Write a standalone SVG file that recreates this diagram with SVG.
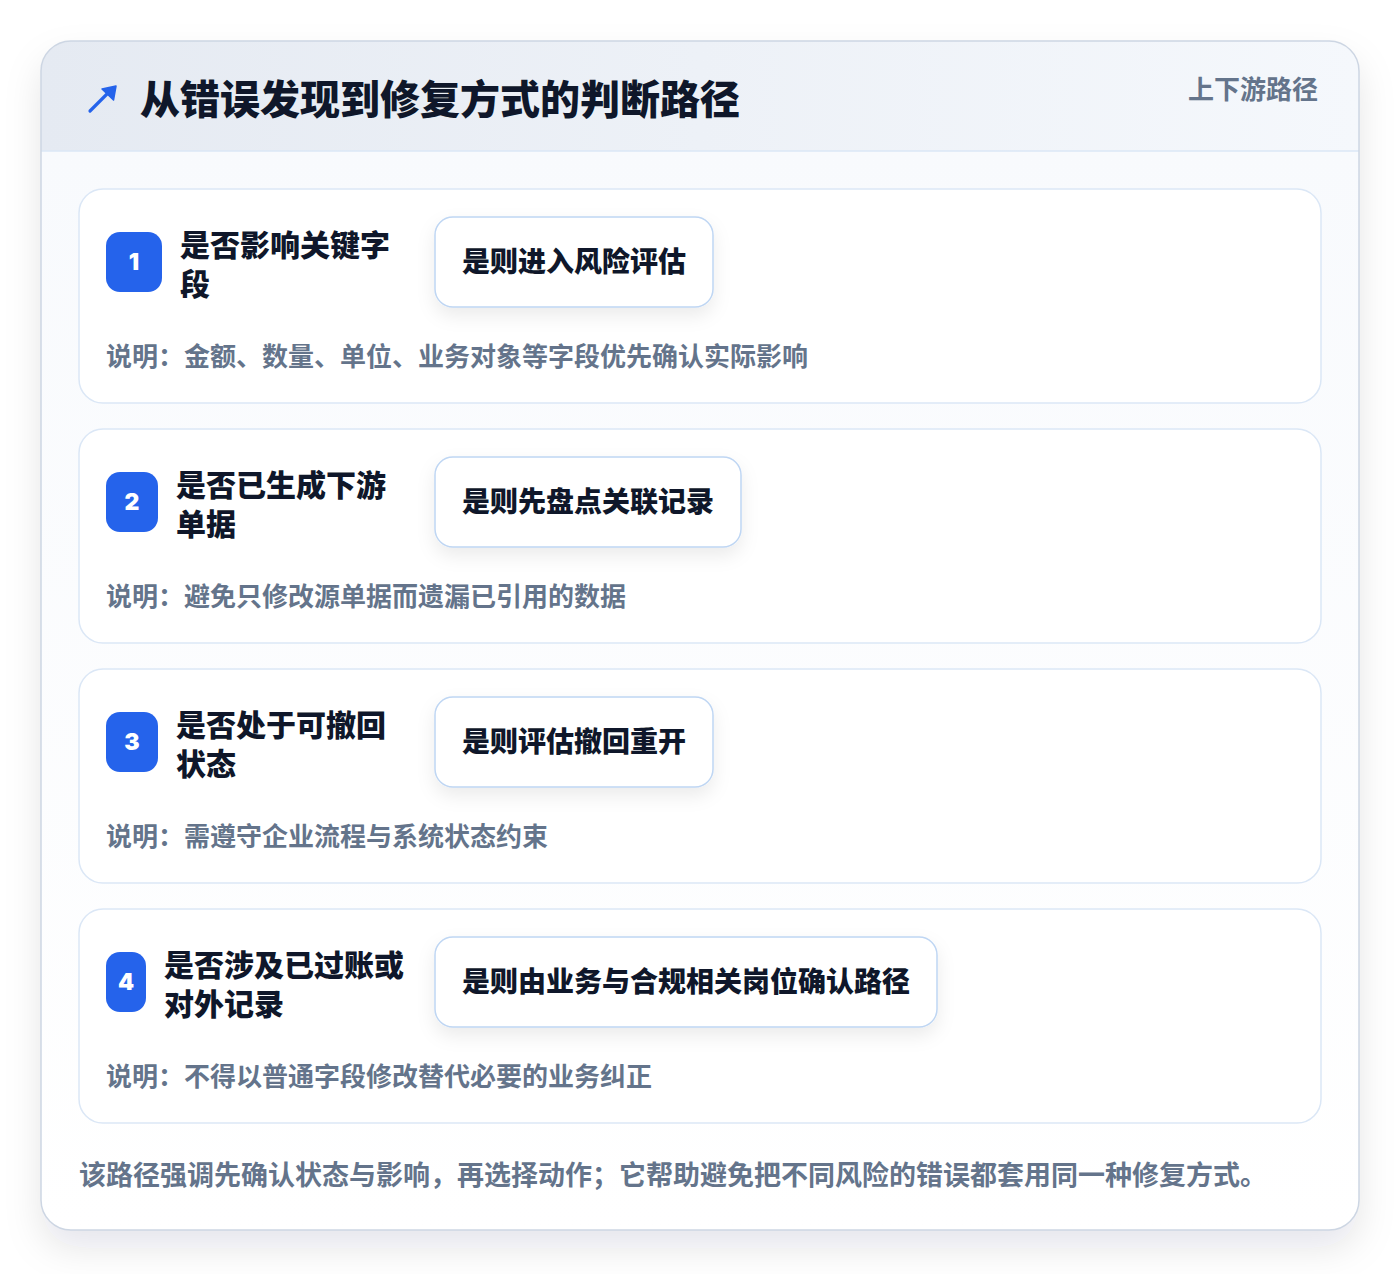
<svg xmlns="http://www.w3.org/2000/svg" width="1400" height="1274" viewBox="0 0 1400 1274">
  <defs>
    <filter id="outerShadow" x="-10%" y="-10%" width="120%" height="125%">
      <feDropShadow dx="0" dy="18" stdDeviation="18" flood-color="#0f172a" flood-opacity="0.10"/>
    </filter>
    <filter id="boxShadow" x="-20%" y="-30%" width="140%" height="180%">
      <feDropShadow dx="0" dy="8" stdDeviation="9" flood-color="#0f172a" flood-opacity="0.08"/>
    </filter>
    <linearGradient id="headerGrad" x1="0" y1="0" x2="1" y2="0">
      <stop offset="0" stop-color="#e5eaf2"/>
      <stop offset="1" stop-color="#f5f8fc"/>
    </linearGradient>
    <linearGradient id="bodyGrad" x1="0" y1="0" x2="0" y2="1">
      <stop offset="0" stop-color="#f8fafd"/>
      <stop offset="1" stop-color="#ffffff"/>
    </linearGradient>
    <clipPath id="outerClip">
      <rect x="41" y="41" width="1318" height="1189" rx="30"/>
    </clipPath>
    <style>
      text { font-family: "Noto Sans CJK SC", "Noto Sans", sans-serif; }
      .title { font-size: 40px; font-weight: 900; fill: #0f172a; }
      .tag { font-size: 26px; font-weight: 700; fill: #64748b; }
      .card { fill: #ffffff; stroke: #dbe7f6; stroke-width: 1.5; }
      .badge { fill: #2563eb; }
      .num { font-size: 23px; font-weight: 900; fill: #ffffff; text-anchor: middle; font-family: "Inter", "Noto Sans", sans-serif; }
      .q { font-size: 30px; font-weight: 800; fill: #0f172a; }
      .abox { fill: #ffffff; stroke: #bfd6f3; stroke-width: 1.5; }
      .a { font-size: 28px; font-weight: 800; fill: #0f172a; }
      .desc { font-size: 26px; font-weight: 700; fill: #64748b; }
      .foot { font-size: 27px; font-weight: 700; fill: #64748b; }
    </style>
  </defs>

  <rect x="0" y="0" width="1400" height="1274" fill="#ffffff"/>

  <g id="frame">
    <rect x="41" y="41" width="1318" height="1189" rx="30" fill="#ffffff" filter="url(#outerShadow)"/>
    <g clip-path="url(#outerClip)">
      <rect x="41" y="151" width="1318" height="1079" fill="url(#bodyGrad)"/>
      <rect x="41" y="41" width="1318" height="110" fill="url(#headerGrad)"/>
      <line x1="41" y1="151" x2="1359" y2="151" stroke="#dbe7f6" stroke-width="1.5"/>
    </g>
    <rect x="41" y="41" width="1318" height="1189" rx="30" fill="none" stroke="#cdd6e3" stroke-width="1.5"/>
  </g>

  <g id="header">
    <g id="icon">
      <line x1="90" y1="111" x2="109" y2="92" stroke="#2563eb" stroke-width="3.2" stroke-linecap="round"/>
      <polygon points="116,86 113.5,100 102,89" fill="#2563eb" stroke="#2563eb" stroke-width="1.5" stroke-linejoin="round"/>
    </g>
    <text x="140" y="114" class="title">从错误发现到修复方式的判断路径</text>
    <text x="1318" y="99" class="tag" text-anchor="end">上下游路径</text>
  </g>

  <g id="connectors"></g>

  <g id="step1">
    <rect x="79" y="189" width="1242" height="214" rx="24" class="card"/>
    <rect x="106" y="232" width="56" height="60" rx="14" class="badge"/>
    <text x="134" y="270" class="num">1</text>
    <text x="180" y="256" class="q">是否影响关键字</text>
    <text x="180" y="295" class="q">段</text>
    <rect x="435" y="217" width="278" height="90" rx="18" class="abox" filter="url(#boxShadow)"/>
    <text x="462" y="272" class="a">是则进入风险评估</text>
    <text x="106" y="366" class="desc">说明：金额、数量、单位、业务对象等字段优先确认实际影响</text>
  </g>

  <g id="step2">
    <rect x="79" y="429" width="1242" height="214" rx="24" class="card"/>
    <rect x="106" y="472" width="52" height="60" rx="14" class="badge"/>
    <text x="132" y="510" class="num">2</text>
    <text x="176" y="496" class="q">是否已生成下游</text>
    <text x="176" y="535" class="q">单据</text>
    <rect x="435" y="457" width="306" height="90" rx="18" class="abox" filter="url(#boxShadow)"/>
    <text x="462" y="512" class="a">是则先盘点关联记录</text>
    <text x="106" y="606" class="desc">说明：避免只修改源单据而遗漏已引用的数据</text>
  </g>

  <g id="step3">
    <rect x="79" y="669" width="1242" height="214" rx="24" class="card"/>
    <rect x="106" y="712" width="52" height="60" rx="14" class="badge"/>
    <text x="132" y="750" class="num">3</text>
    <text x="176" y="736" class="q">是否处于可撤回</text>
    <text x="176" y="775" class="q">状态</text>
    <rect x="435" y="697" width="278" height="90" rx="18" class="abox" filter="url(#boxShadow)"/>
    <text x="462" y="752" class="a">是则评估撤回重开</text>
    <text x="106" y="846" class="desc">说明：需遵守企业流程与系统状态约束</text>
  </g>

  <g id="step4">
    <rect x="79" y="909" width="1242" height="214" rx="24" class="card"/>
    <rect x="106" y="952" width="40" height="60" rx="14" class="badge"/>
    <text x="126" y="990" class="num">4</text>
    <text x="164" y="976" class="q">是否涉及已过账或</text>
    <text x="164" y="1015" class="q">对外记录</text>
    <rect x="435" y="937" width="502" height="90" rx="18" class="abox" filter="url(#boxShadow)"/>
    <text x="462" y="992" class="a">是则由业务与合规相关岗位确认路径</text>
    <text x="106" y="1086" class="desc">说明：不得以普通字段修改替代必要的业务纠正</text>
  </g>

  <g id="footer">
    <text x="79" y="1185" class="foot">该路径强调先确认状态与影响，再选择动作；它帮助避免把不同风险的错误都套用同一种修复方式。</text>
  </g>
</svg>
